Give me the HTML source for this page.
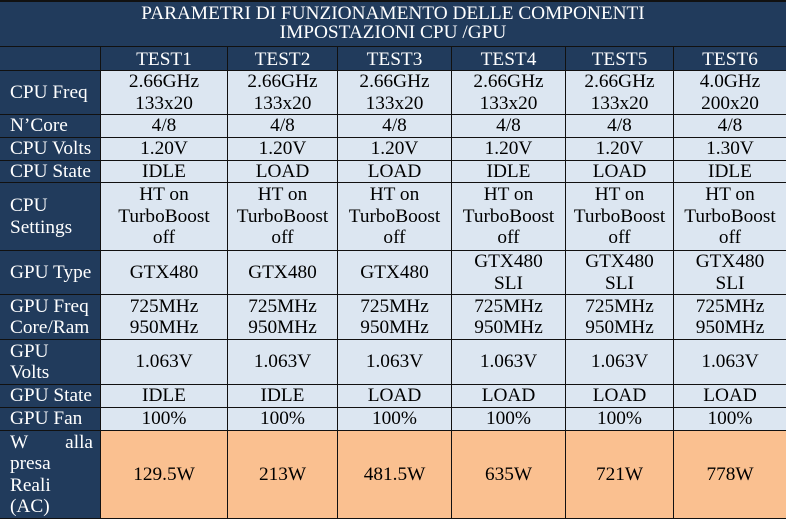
<!DOCTYPE html>
<html>
<head>
<meta charset="utf-8">
<style>
html,body{margin:0;padding:0;background:#fff;}
body{width:786px;height:520px;overflow:hidden;position:relative;}
.g{position:absolute;left:0;top:0;width:786px;height:519px;display:grid;
grid-template-columns:101px 127px 110px 114px 114px 108px 112px;
grid-template-rows:47px 24px 44px 23px 23px 22px 68px 44px 45px 45px 23px 23px 88px;
font-family:"Liberation Serif","Times New Roman",serif;font-size:19.3px;letter-spacing:0;line-height:21.5px;}
.g>div{box-sizing:border-box;border-bottom:1px solid #111;border-right:1px solid #111;display:flex;align-items:center;justify-content:center;text-align:center;color:#000;}
.g>div.e{border-right:none;}
.t{grid-column:1/-1;background:#213b5c;color:#fff !important;border-top:2px solid #111;border-right:none !important;line-height:19px;padding-bottom:3px;}
.h{background:#213b5c;color:#fff !important;padding-top:2px;}
.l{background:#213b5c;color:#fff !important;justify-content:flex-start !important;text-align:left !important;padding-left:10px;}
.c{background:#dce6f1;}
.o{background:#fac090;}
.w{width:83px;}
.w .f{display:flex;justify-content:space-between;}
</style>
</head>
<body>
<div class="g">
<div class="t"><div>PARAMETRI DI FUNZIONAMENTO DELLE COMPONENTI<br>IMPOSTAZIONI CPU /GPU</div></div>

<div class="h"></div>
<div class="h"><div>TEST1</div></div>
<div class="h"><div>TEST2</div></div>
<div class="h"><div>TEST3</div></div>
<div class="h"><div>TEST4</div></div>
<div class="h"><div>TEST5</div></div>
<div class="h e"><div>TEST6</div></div>

<div class="l"><div>CPU Freq</div></div>
<div class="c"><div>2.66GHz<br>133x20</div></div>
<div class="c"><div>2.66GHz<br>133x20</div></div>
<div class="c"><div>2.66GHz<br>133x20</div></div>
<div class="c"><div>2.66GHz<br>133x20</div></div>
<div class="c"><div>2.66GHz<br>133x20</div></div>
<div class="c e"><div>4.0GHz<br>200x20</div></div>

<div class="l"><div>N’Core</div></div>
<div class="c"><div>4/8</div></div>
<div class="c"><div>4/8</div></div>
<div class="c"><div>4/8</div></div>
<div class="c"><div>4/8</div></div>
<div class="c"><div>4/8</div></div>
<div class="c e"><div>4/8</div></div>

<div class="l"><div>CPU Volts</div></div>
<div class="c"><div>1.20V</div></div>
<div class="c"><div>1.20V</div></div>
<div class="c"><div>1.20V</div></div>
<div class="c"><div>1.20V</div></div>
<div class="c"><div>1.20V</div></div>
<div class="c e"><div>1.30V</div></div>

<div class="l"><div>CPU State</div></div>
<div class="c"><div>IDLE</div></div>
<div class="c"><div>LOAD</div></div>
<div class="c"><div>LOAD</div></div>
<div class="c"><div>IDLE</div></div>
<div class="c"><div>LOAD</div></div>
<div class="c e"><div>IDLE</div></div>

<div class="l"><div>CPU<br>Settings</div></div>
<div class="c"><div>HT on<br>TurboBoost<br>off</div></div>
<div class="c"><div>HT on<br>TurboBoost<br>off</div></div>
<div class="c"><div>HT on<br>TurboBoost<br>off</div></div>
<div class="c"><div>HT on<br>TurboBoost<br>off</div></div>
<div class="c"><div>HT on<br>TurboBoost<br>off</div></div>
<div class="c e"><div>HT on<br>TurboBoost<br>off</div></div>

<div class="l"><div>GPU Type</div></div>
<div class="c"><div>GTX480</div></div>
<div class="c"><div>GTX480</div></div>
<div class="c"><div>GTX480</div></div>
<div class="c"><div>GTX480<br>SLI</div></div>
<div class="c"><div>GTX480<br>SLI</div></div>
<div class="c e"><div>GTX480<br>SLI</div></div>

<div class="l"><div>GPU Freq<br>Core/Ram</div></div>
<div class="c"><div>725MHz<br>950MHz</div></div>
<div class="c"><div>725MHz<br>950MHz</div></div>
<div class="c"><div>725MHz<br>950MHz</div></div>
<div class="c"><div>725MHz<br>950MHz</div></div>
<div class="c"><div>725MHz<br>950MHz</div></div>
<div class="c e"><div>725MHz<br>950MHz</div></div>

<div class="l"><div>GPU<br>Volts</div></div>
<div class="c"><div>1.063V</div></div>
<div class="c"><div>1.063V</div></div>
<div class="c"><div>1.063V</div></div>
<div class="c"><div>1.063V</div></div>
<div class="c"><div>1.063V</div></div>
<div class="c e"><div>1.063V</div></div>

<div class="l"><div>GPU State</div></div>
<div class="c"><div>IDLE</div></div>
<div class="c"><div>IDLE</div></div>
<div class="c"><div>LOAD</div></div>
<div class="c"><div>LOAD</div></div>
<div class="c"><div>LOAD</div></div>
<div class="c e"><div>LOAD</div></div>

<div class="l"><div>GPU Fan</div></div>
<div class="c"><div>100%</div></div>
<div class="c"><div>100%</div></div>
<div class="c"><div>100%</div></div>
<div class="c"><div>100%</div></div>
<div class="c"><div>100%</div></div>
<div class="c e"><div>100%</div></div>

<div class="l"><div class="w"><div class="f"><span>W</span><span>alla</span></div>presa<br>Reali<br>(AC)</div></div>
<div class="o"><div>129.5W</div></div>
<div class="o"><div>213W</div></div>
<div class="o"><div>481.5W</div></div>
<div class="o"><div>635W</div></div>
<div class="o"><div>721W</div></div>
<div class="o e"><div>778W</div></div>
</div>
</body>
</html>
